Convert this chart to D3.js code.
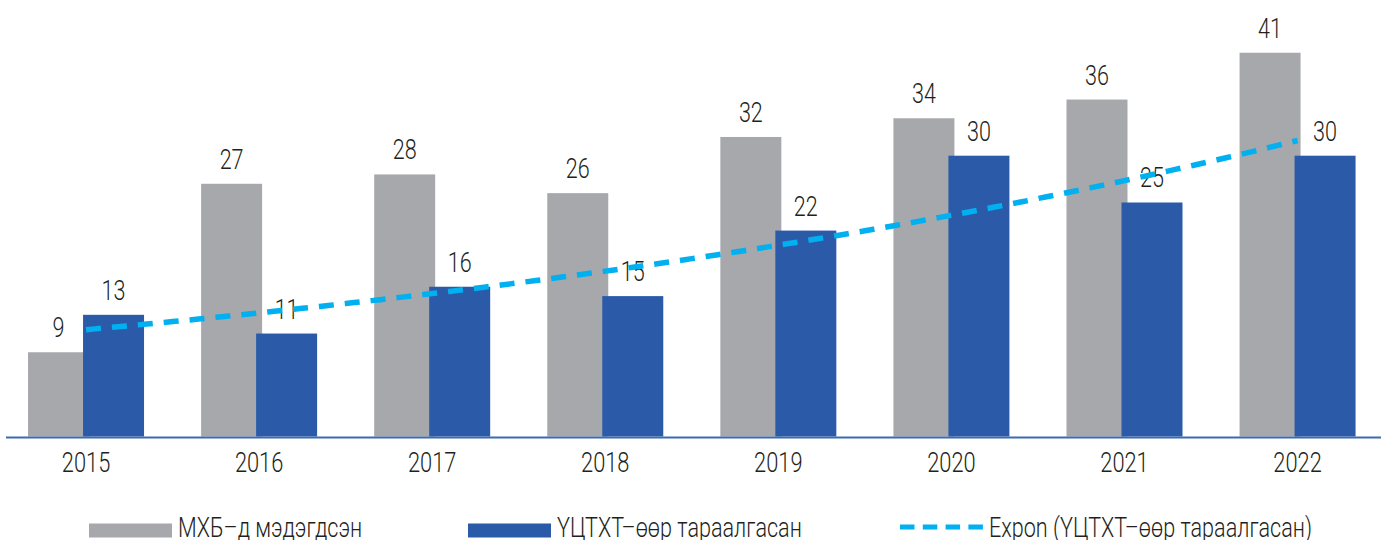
<!DOCTYPE html>
<html>
<head>
<meta charset="utf-8">
<script src="https://cdn.jsdelivr.net/npm/d3@7"></script>
<style>
  html, body { margin: 0; padding: 0; background: #fff; }
  svg { display: block; }
</style>
</head>
<body>
<svg id="chart" width="1384" height="540"></svg>
<script>
const years = ["2015", "2016", "2017", "2018", "2019", "2020", "2021", "2022"];
const reported = [9, 27, 28, 26, 32, 34, 36, 41];      // МХБ–д мэдэгдсэн
const spread = [13, 11, 16, 15, 22, 30, 25, 30];       // YЦТХТ–өөр тараалгасан
const seriesNames = ["МХБ–д мэдэгдсэн", "YЦТХТ–өөр тараалгасан", "Expon (YЦТХТ–өөр тараалгасан)"];

const FAMILY = "Roboto, 'Liberation Sans', sans-serif";
const WEIGHT = 300;

const svg = d3.select("#chart");
const x = d3.scaleBand().domain(years).range([-0.5, 1384.1]).paddingInner(0).paddingOuter(0);
const y = d3.scaleLinear().domain([0, 45]).range([436.5, 15.3]);

const barW = 61, overlap = 6;
const gray = "#a7a8ac", blue = "#2b5ba8", trendC = "#00b0f0", textC = "#231f20";

// horizontally condensed text
function txt(sel, size, sx) {
  sel.attr("font-family", FAMILY).attr("font-weight", WEIGHT).attr("font-size", size).attr("fill", textC);
  sel.each(function () {
    const t = d3.select(this);
    const xx = +t.attr("x"), yy = +t.attr("y");
    t.attr("transform", `translate(${xx},${yy}) scale(${sx},1) translate(${-xx},${-yy})`);
  });
  return sel;
}

const cx = d => x(d) + x.bandwidth() / 2;
const grayX = d => cx(d) - barW + overlap / 2;
const blueX = d => cx(d) - overlap / 2;

// gray bars
svg.append("g").selectAll("rect").data(years).join("rect")
  .attr("x", d => grayX(d)).attr("width", barW)
  .attr("y", (d, i) => y(reported[i])).attr("height", (d, i) => y(0) - y(reported[i]))
  .attr("fill", gray);
// blue bars
svg.append("g").selectAll("rect").data(years).join("rect")
  .attr("x", d => blueX(d)).attr("width", barW)
  .attr("y", (d, i) => y(spread[i])).attr("height", (d, i) => y(0) - y(spread[i]))
  .attr("fill", blue);

// value labels
txt(svg.append("g").selectAll("text").data(years).join("text")
  .attr("x", d => grayX(d) + barW / 2).attr("y", (d, i) => y(reported[i]) - 15)
  .attr("text-anchor", "middle").text((d, i) => reported[i]), 28, 0.77);
txt(svg.append("g").selectAll("text").data(years).join("text")
  .attr("x", d => blueX(d) + barW / 2).attr("y", (d, i) => y(spread[i]) - 15)
  .attr("text-anchor", "middle").text((d, i) => spread[i]), 28, 0.77);

// exponential trendline (least squares fit on ln values, x = 1..n)
const n = spread.length;
const xs = d3.range(1, n + 1);
const ls = spread.map(Math.log);
const mx = d3.mean(xs), ml = d3.mean(ls);
const b = d3.sum(xs, (v, i) => (v - mx) * (ls[i] - ml)) / d3.sum(xs, v => (v - mx) ** 2);
const a = ml - b * mx;
const xc = d3.scaleLinear().domain([1, n]).range([cx(years[0]), cx(years[n - 1])]);
const tpts = d3.range(1, n + 0.001, 0.05).map(t => [xc(t), y(Math.exp(a + b * t))]);
svg.append("path").datum(tpts)
  .attr("d", d3.line().curve(d3.curveLinear))
  .attr("fill", "none").attr("stroke", trendC).attr("stroke-width", 5.5)
  .attr("stroke-dasharray", "15,11");

// axis
const axisG = svg.append("g").attr("transform", `translate(0,${y(0)})`)
  .call(d3.axisBottom(x).tickSize(0).tickSizeOuter(0));
axisG.select(".domain").remove();
svg.append("line").attr("x1", 6).attr("x2", 1381).attr("y1", 437.5).attr("y2", 437.5)
  .attr("stroke", "#3d6bb3").attr("stroke-width", 2);
axisG.selectAll(".tick text").attr("y", 35.5).attr("dy", null)
  .attr("font-family", FAMILY).attr("font-weight", WEIGHT).attr("font-size", 28).attr("fill", textC)
  .attr("transform", "translate(0,35.5) scale(0.78,1) translate(0,-35.5)");

// legend
const leg = svg.append("g");
const legItems = [
  {name: seriesNames[0], type: "rect", color: gray, x0: 89},
  {name: seriesNames[1], type: "rect", color: blue, x0: 468},
  {name: seriesNames[2], type: "line", color: trendC, x0: 900}
];
legItems.forEach(it => {
  if (it.type === "rect") {
    leg.append("rect").attr("x", it.x0).attr("y", 523.5).attr("width", 83).attr("height", 14).attr("fill", it.color);
  } else {
    leg.append("line").attr("x1", it.x0).attr("x2", it.x0 + 83).attr("y1", 527).attr("y2", 527)
      .attr("stroke", it.color).attr("stroke-width", 5).attr("stroke-dasharray", "14.5,8.3");
  }
  txt(leg.append("text").attr("x", it.x0 + 89).attr("y", 537).text(it.name), 27, 0.8);
});
</script>
</body>
</html>
